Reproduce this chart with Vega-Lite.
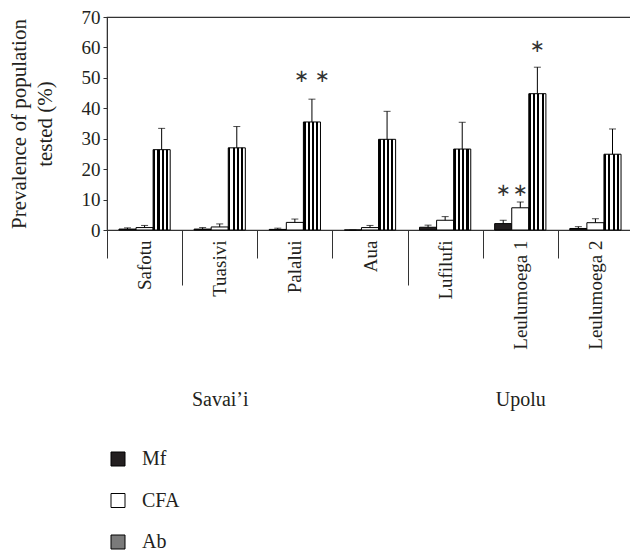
{
  "$schema": "https://vega.github.io/schema/vega-lite/v6.json",
  "autosize": "none",
  "padding": {"left": 107, "top": 17, "right": -3, "bottom": 322},
  "width": 526,
  "height": 213,
  "config": {
    "font": "Liberation Serif",
    "view": {"stroke": "#333", "strokeWidth": 1.2},
    "axis": {"labelFont": "Liberation Serif", "titleFont": "Liberation Serif", "labelColor": "#231f20", "titleColor": "#231f20", "domainColor": "#333", "tickColor": "#333", "titleFontWeight": "normal", "grid": false}
  },
  "datasets": {
    "bars": [
      {"village": "Safotu", "island": "Savai’i", "series": "Mf", "value": 0.3, "upper": 0.7},
      {"village": "Safotu", "island": "Savai’i", "series": "CFA", "value": 0.8, "upper": 1.5},
      {"village": "Safotu", "island": "Savai’i", "series": "Ab", "value": 26.4, "upper": 33.4},
      {"village": "Tuasivi", "island": "Savai’i", "series": "Mf", "value": 0.3, "upper": 0.8},
      {"village": "Tuasivi", "island": "Savai’i", "series": "CFA", "value": 1.0, "upper": 2.0},
      {"village": "Tuasivi", "island": "Savai’i", "series": "Ab", "value": 27.0, "upper": 34.0},
      {"village": "Palalui", "island": "Savai’i", "series": "Mf", "value": 0.2, "upper": 0.6},
      {"village": "Palalui", "island": "Savai’i", "series": "CFA", "value": 2.5, "upper": 3.6},
      {"village": "Palalui", "island": "Savai’i", "series": "Ab", "value": 35.5, "upper": 43.0},
      {"village": "Aua", "island": "Upolu", "series": "Mf", "value": 0.0, "upper": 0.0},
      {"village": "Aua", "island": "Upolu", "series": "CFA", "value": 0.8, "upper": 1.5},
      {"village": "Aua", "island": "Upolu", "series": "Ab", "value": 29.8, "upper": 39.0},
      {"village": "Lufilufi", "island": "Upolu", "series": "Mf", "value": 0.9, "upper": 1.6},
      {"village": "Lufilufi", "island": "Upolu", "series": "CFA", "value": 3.2, "upper": 4.4},
      {"village": "Lufilufi", "island": "Upolu", "series": "Ab", "value": 26.6, "upper": 35.4},
      {"village": "Leulumoega 1", "island": "Upolu", "series": "Mf", "value": 2.1, "upper": 3.2},
      {"village": "Leulumoega 1", "island": "Upolu", "series": "CFA", "value": 7.3, "upper": 9.2},
      {"village": "Leulumoega 1", "island": "Upolu", "series": "Ab", "value": 44.8, "upper": 53.5},
      {"village": "Leulumoega 2", "island": "Upolu", "series": "Mf", "value": 0.5, "upper": 1.1},
      {"village": "Leulumoega 2", "island": "Upolu", "series": "CFA", "value": 2.4, "upper": 3.7},
      {"village": "Leulumoega 2", "island": "Upolu", "series": "Ab", "value": 24.9, "upper": 33.2}
    ],
    "stars": [
      {"village": "Palalui", "series": "Ab", "y": 50.3, "label": "∗ ∗"},
      {"village": "Leulumoega 1", "series": "Mf", "y": 12.8, "label": "∗"},
      {"village": "Leulumoega 1", "series": "CFA", "y": 12.8, "label": "∗"},
      {"village": "Leulumoega 1", "series": "Ab", "y": 60.0, "label": "∗"}
    ]
  },
  "data": {"name": "bars"},
  "layer": [
    {
      "layer": [
        {
          "mark": {"type": "bar", "stroke": "#000", "strokeWidth": 1},
          "encoding": {
            "x": {
              "field": "village", "type": "nominal",
              "scale": {"domain": ["Safotu", "Tuasivi", "Palalui", "Aua", "Lufilufi", "Leulumoega 1", "Leulumoega 2"], "paddingInner": 0, "paddingOuter": 0},
              "axis": {"title": null, "labelAngle": -90, "labelAlign": "right", "labelBaseline": "middle", "labelFontSize": 19, "tickSize": 28, "tickBand": "extent", "labelPadding": -18, "domainColor": "#333", "labelOverlap": false}
            },
            "xOffset": {"field": "series", "type": "nominal", "scale": {"domain": ["Mf", "CFA", "Ab"], "paddingInner": 0, "paddingOuter": 0.7}},
            "y": {
              "field": "value", "type": "quantitative",
              "scale": {"domain": [0, 70], "nice": false},
              "axis": {"title": ["Prevalence of population", "tested (%)"], "titleFontSize": 21, "titleLineHeight": 26, "titlePadding": 26, "labelFontSize": 19, "tickSize": 4, "labelPadding": 3, "values": [0, 10, 20, 30, 40, 50, 60, 70], "labelOverlap": false}
            },
            "fill": {
              "condition": {"test": "datum.series === 'Ab'", "value": {"gradient": "linear", "x1": 0, "y1": 0, "x2": 1, "y2": 0, "stops": [
                    {"offset": 0, "color": "#000"}, {"offset": 0.125, "color": "#000"},
                    {"offset": 0.125, "color": "#fff"}, {"offset": 0.25, "color": "#fff"},
                    {"offset": 0.25, "color": "#000"}, {"offset": 0.375, "color": "#000"},
                    {"offset": 0.375, "color": "#fff"}, {"offset": 0.5, "color": "#fff"},
                    {"offset": 0.5, "color": "#000"}, {"offset": 0.625, "color": "#000"},
                    {"offset": 0.625, "color": "#fff"}, {"offset": 0.75, "color": "#fff"},
                    {"offset": 0.75, "color": "#000"}, {"offset": 0.875, "color": "#000"},
                    {"offset": 0.875, "color": "#fff"}, {"offset": 1, "color": "#fff"}
                  ]}},
              "field": "series", "type": "nominal",
              "scale": {"domain": ["Mf", "CFA", "Ab"], "range": ["#231f20", "#ffffff", "#7a7a7a"]},
              "legend": {
                "orient": "none", "legendX": 1, "legendY": 432, "direction": "vertical", "title": null,
                "symbolType": "square", "symbolSize": 196, "symbolStrokeColor": "#000", "symbolStrokeWidth": 1,
                "labelFontSize": 20, "labelFont": "Liberation Serif", "labelColor": "#231f20", "labelOffset": 14, "rowPadding": 21.5, "padding": 0,
                "encode": {"symbols": {"update": {
                  "stroke": {"value": "#000"},
                  "strokeWidth": {"value": 1},
                  "opacity": {"value": 1}
                }}}
              }
            }
          }
        },
        {
          "mark": {"type": "rule", "color": "#000", "strokeWidth": 1},
          "encoding": {
            "x": {"field": "village", "type": "nominal"},
            "xOffset": {"field": "series", "type": "nominal"},
            "y": {"field": "value", "type": "quantitative", "axis": {"title": ["Prevalence of population", "tested (%)"], "titleFontSize": 21, "titleLineHeight": 26, "titlePadding": 26, "labelFontSize": 19, "tickSize": 4, "labelPadding": 3, "values": [0, 10, 20, 30, 40, 50, 60, 70], "labelOverlap": false}},
            "y2": {"field": "upper"}
          }
        },
        {
          "mark": {"type": "tick", "color": "#000", "size": 7, "thickness": 1},
          "encoding": {
            "x": {"field": "village", "type": "nominal"},
            "xOffset": {"field": "series", "type": "nominal"},
            "y": {"field": "upper", "type": "quantitative", "axis": {"title": ["Prevalence of population", "tested (%)"], "titleFontSize": 21, "titleLineHeight": 26, "titlePadding": 26, "labelFontSize": 19, "tickSize": 4, "labelPadding": 3, "values": [0, 10, 20, 30, 40, 50, 60, 70], "labelOverlap": false}}
          }
        },
        {
          "data": {"name": "stars"},
          "mark": {"type": "text", "font": "DejaVu Sans", "fontSize": 18, "color": "#333", "baseline": "middle", "align": "center"},
          "encoding": {
            "x": {"field": "village", "type": "nominal"},
            "xOffset": {"field": "series", "type": "nominal"},
            "y": {"field": "y", "type": "quantitative", "axis": {"title": ["Prevalence of population", "tested (%)"], "titleFontSize": 21, "titleLineHeight": 26, "titlePadding": 26, "labelFontSize": 19, "tickSize": 4, "labelPadding": 3, "values": [0, 10, 20, 30, 40, 50, 60, 70], "labelOverlap": false}},
            "text": {"field": "label"}
          }
        }
      ]
    },
    {
      "mark": {"type": "text", "text": ""},
      "encoding": {
        "x": {
          "field": "village", "type": "nominal",
          "scale": {"domain": ["Safotu", "Tuasivi", "Palalui", "Aua", "Lufilufi", "Leulumoega 1", "Leulumoega 2"], "paddingInner": 0, "paddingOuter": 0},
          "axis": {
            "orient": "bottom", "title": null, "domain": false, "tickSize": 55, "tickBand": "extent", "tickColor": "#333",
            "tickOpacity": {"condition": {"test": "datum.value === 'Safotu' || datum.value === 'Aua'", "value": 1}, "value": 0},
            "labelAngle": 0, "labelPadding": 104, "labelFontSize": 20, "labelColor": "#231f20", "labelOverlap": false,
            "labelExpr": "datum.value === 'Tuasivi' ? 'Savai’i' : (datum.value === 'Leulumoega 1' ? 'Upolu' : '')"
          }
        }
      }
    }
  ],
  "resolve": {"scale": {"x": "independent"}, "axis": {"x": "independent"}}
}
